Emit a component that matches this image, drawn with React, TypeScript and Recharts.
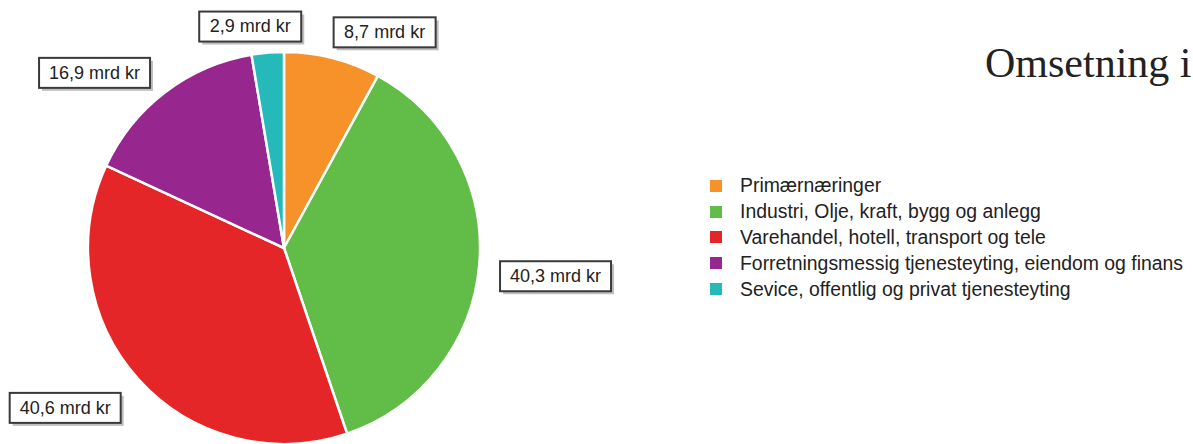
import { Legend, Pie, PieChart, Cell } from "recharts"

const sectors = [
  "Primærnæringer",
  "Industri, Olje, kraft, bygg og anlegg",
  "Varehandel, hotell, transport og tele",
  "Forretningsmessig tjenesteyting, eiendom og finans",
  "Sevice, offentlig og privat tjenesteyting",
]
const omsetning = [8.7, 40.3, 40.6, 16.9, 2.9]
const colors = ["#F7922A", "#62BC48", "#E52628", "#97278F", "#25B9B9"]

// where each value box sits relative to its slice: extra radius and clockwise angle shift
const labelRadius = [42, 77, 75, 62, 28]
const labelShift = [10.7, 1, 5.8, -9.9, -3.9]

const data = sectors.map((name, i) => ({ name, value: omsetning[i] }))
const RAD = Math.PI / 180

function ValueBox(props: any) {
  const { cx, cy, midAngle, outerRadius, index, value } = props
  const r = outerRadius + labelRadius[index]
  const a = midAngle - labelShift[index]
  const x = cx + r * Math.cos(-a * RAD)
  const y = cy + r * Math.sin(-a * RAD)
  const text = `${String(value).replace(".", ",")} mrd kr`
  const w = text.length * 9 + 12
  const h = 30
  return (
    <g>
      <rect x={x - w / 2 + 3} y={y - h / 2 + 3} width={w} height={h} fill="#8a8a8a" opacity={0.55} />
      <rect x={x - w / 2} y={y - h / 2} width={w} height={h} fill="#fff" stroke="#3a3a3a" strokeWidth={2} />
      <text x={x} y={y + 1} textAnchor="middle" dominantBaseline="middle" fontSize={18} fill="#222"
        fontFamily="'Liberation Sans', Arial, sans-serif">{text}</text>
    </g>
  )
}

function LegendList() {
  return (
    <div style={{ fontFamily: "'Liberation Sans', Arial, sans-serif", fontSize: 19.4, color: "#222" }}>
      {sectors.map((s, i) => (
        <div key={s} style={{ display: "flex", alignItems: "center", height: 25.8 }}>
          <span style={{ width: 12, height: 12, background: colors[i], marginRight: 18, display: "inline-block", flexShrink: 0 }} />
          <span style={{ whiteSpace: "nowrap" }}>{s}</span>
        </div>
      ))}
    </div>
  )
}

export default function App() {
  return (
    <div style={{ position: "absolute", left: 0, top: 0, width: 1193, height: 444, overflow: "hidden", background: "#fff" }}>
      <PieChart width={1193} height={444} margin={{ top: 0, right: 0, bottom: 0, left: 0 }}>
        <Pie
          data={data}
          dataKey="value"
          nameKey="name"
          cx={284}
          cy={248}
          outerRadius={196}
          startAngle={90}
          endAngle={-270}
          stroke="#fff"
          strokeWidth={2.5}
          label={ValueBox}
          labelLine={false}
          isAnimationActive={false}
        >
          {data.map((d, i) => (
            <Cell key={d.name} fill={colors[i]} />
          ))}
        </Pie>
        <Legend content={LegendList} wrapperStyle={{ left: 710, top: 173, width: 483 }} />
      </PieChart>
      <div style={{ position: "absolute", left: 985, top: 39, fontFamily: "'Liberation Serif', 'Times New Roman', serif", fontSize: 42, color: "#222", whiteSpace: "nowrap" }}>
        Omsetning i
      </div>
    </div>
  )
}
